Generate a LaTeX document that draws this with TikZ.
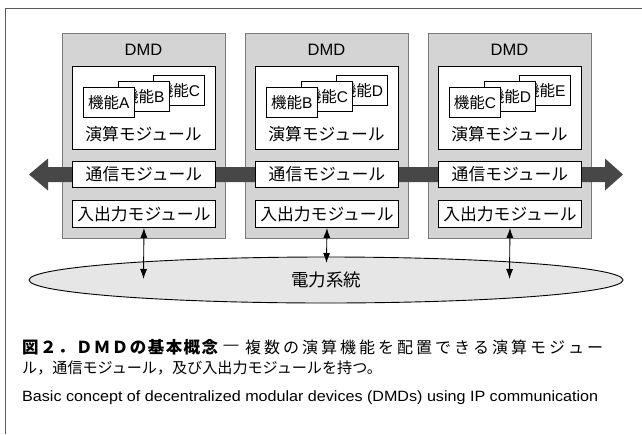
\documentclass[tikz,border=0pt]{standalone}
\usepackage{fontspec}
\usepackage{graphicx}
\setmainfont{Liberation Sans}
\newfontfamily\jp{Noto Sans CJK JP}
\usetikzlibrary{shapes.geometric,arrows.meta}
\definecolor{boxgray}{HTML}{D4D4D4}
\definecolor{boxedge}{HTML}{7A7A7A}
\definecolor{arrowgray}{HTML}{474747}
\definecolor{ellfill}{HTML}{E6E6E6}
\definecolor{framegray}{HTML}{5A5A5A}
\begin{document}
\begin{tikzpicture}[x=1pt,y=-1pt,
  dmdbox/.style={draw=boxedge, fill=boxgray, line width=0.9pt, minimum width=163pt, minimum height=205pt, inner sep=0pt, anchor=north west},
  dmdlabel/.style={inner sep=0pt, font=\fontsize{16.5}{16.5}\selectfont},
  modbox/.style={draw=black, fill=white, line width=0.9pt, minimum width=143pt, inner sep=0pt, anchor=north west, font=\jp\fontsize{16.8}{16.8}\selectfont},
  modtext/.style={inner sep=0pt, font=\jp\fontsize{16.8}{16.8}\selectfont},
  funcbox/.style={draw=black, fill=white, line width=0.8pt, minimum width=51pt, minimum height=30pt, inner sep=0pt, anchor=north west, font=\fontsize{15.5}{15.5}\selectfont},
  gridell/.style={ellipse, draw=black, fill=ellfill, line width=0.9pt, minimum width=594pt, minimum height=46pt, inner sep=0pt, font=\jp\fontsize{17.5}{17.5}\selectfont},
  conn/.style={{Latex[length=10pt,width=7pt]}-{Latex[length=10pt,width=7pt]}, line width=0.9pt},
  captext/.style={inner sep=0pt, anchor=west}
]
\useasboundingbox (0,0) rectangle (642,434);
\fill[white] (0,0) rectangle (642,434);
\draw[framegray, line width=1pt] (5,434) -- (5,8) -- (642,8);

% DMD boxes
\foreach \i/\x in {1/62,2/245,3/428}{
  \node[dmdbox] (dmd\i) at (\x,33) {};
  \node[dmdlabel] (dmdl\i) at (\x+81.5,49.5) {DMD};
}

% communication bus arrow
\fill[arrowgray] (29,174.5) -- (48,158.5) -- (48,167) -- (605,167) -- (605,158.5)
  -- (623,174.5) -- (605,190.5) -- (605,182) -- (48,182) -- (48,190.5) -- cycle;

% power grid
\node[gridell] (grid) at (326,280) {電力系統};

% modules
\foreach \i/\x/\fa/\fb/\fc/\ty in {1/62/A/B/C/279,2/245/B/C/D/263,3/428/C/D/E/279}{
  \node[modbox, minimum height=83pt] (calc\i) at (\x+10,66) {};
  \node[funcbox] (fc\i) at (\x+91,75) {{\jp 機能}\fc};
  \node[funcbox] (fb\i) at (\x+56,81) {{\jp 機能}\fb};
  \node[funcbox] (fa\i) at (\x+21,87) {{\jp 機能}\fa};
  \node[modtext] (calct\i) at (\x+81.5,134.5) {演算モジュール};
  \node[modbox, minimum height=26pt] (comm\i) at (\x+10,161) {通信モジュール};
  \node[modbox, minimum height=27pt] (io\i) at (\x+10,200) {入出力モジュール};
  \coordinate (t\i) at (\x+81.5,\ty);
  \draw[conn] (io\i.south) -- (t\i);
}

% caption
\node[captext, font=\jp\bfseries\fontsize{16.5}{16.5}\selectfont] (cap1a) at (22,347)
  {\makebox[196pt]{図\hfill ２\hfill ．\hfill Ｄ\hfill Ｍ\hfill Ｄ\hfill の\hfill 基\hfill 本\hfill 概\hfill 念}};
\node[inner sep=0pt, font=\fontsize{15}{15}\selectfont] (cap1b) at (231,347) {—};
\node[captext, font=\jp\fontsize{16}{16}\selectfont] (cap1c) at (245,347)
  {\makebox[358pt]{複\hfill 数\hfill の\hfill 演\hfill 算\hfill 機\hfill 能\hfill を\hfill 配\hfill 置\hfill で\hfill き\hfill る\hfill 演\hfill 算\hfill モ\hfill ジ\hfill ュ\hfill ー}};
\node[captext, font=\jp\fontsize{15.1}{15.1}\selectfont] (cap2) at (22,368)
  {ル，通信モジュール，及び入出力モジュールを持つ。};
\node[captext] (cap3) at (22,398)
  {\resizebox{576pt}{10.8pt}{\fontsize{14}{14}\selectfont Basic concept of decentralized modular devices (DMDs) using IP communication}};
\end{tikzpicture}
\end{document}
